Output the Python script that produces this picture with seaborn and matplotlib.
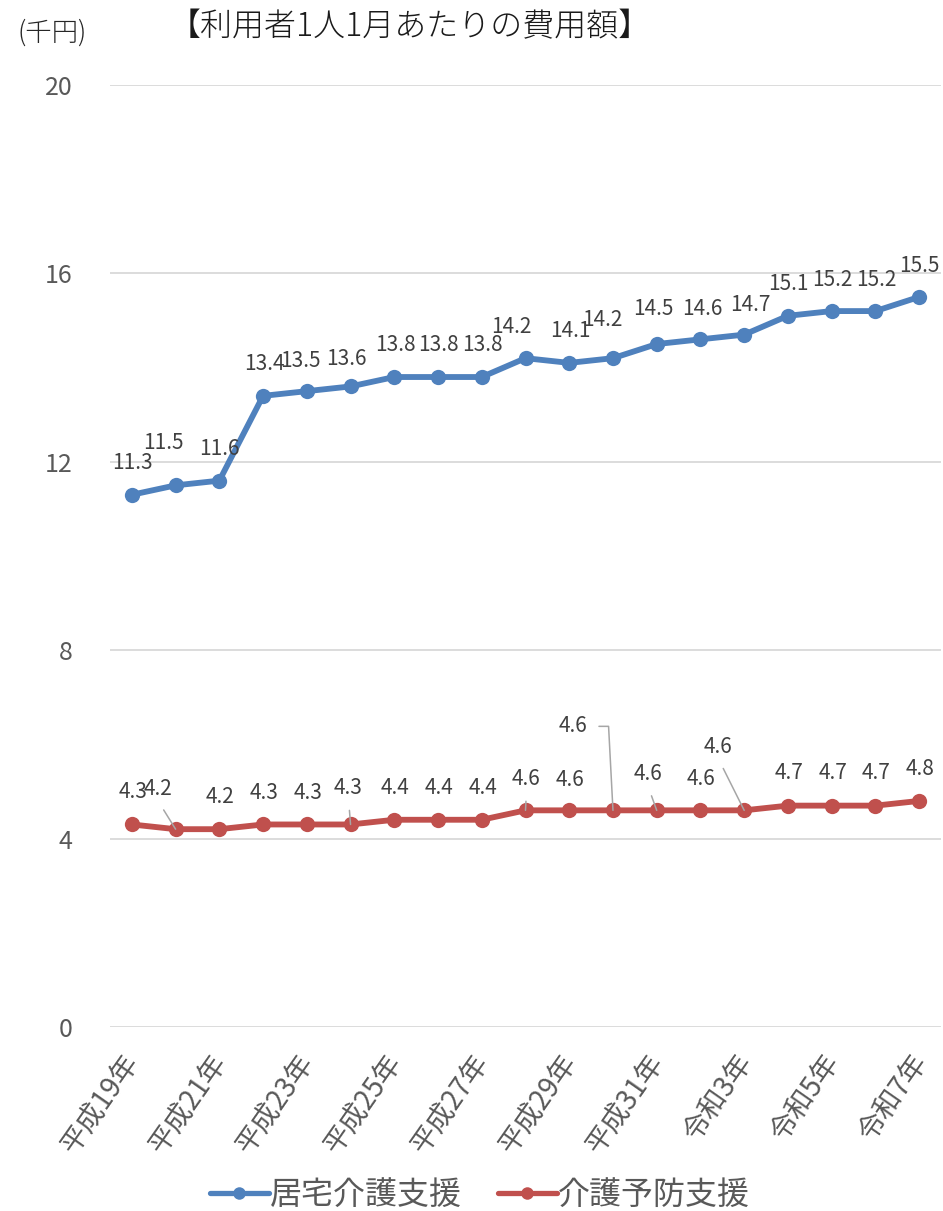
import numpy as np
import pandas as pd
import matplotlib
matplotlib.use("Agg")
import matplotlib.pyplot as plt
from matplotlib.transforms import ScaledTranslation
import seaborn as sns

# ---------------- data ----------------
years = ["平成19年", "平成20年", "平成21年", "平成22年", "平成23年", "平成24年",
         "平成25年", "平成26年", "平成27年", "平成28年", "平成29年", "平成30年",
         "平成31年", "令和2年", "令和3年", "令和4年", "令和5年", "令和6年", "令和7年"]
kyotaku = [11.3, 11.5, 11.6, 13.4, 13.5, 13.6, 13.8, 13.8, 13.8, 14.2,
           14.1, 14.2, 14.5, 14.6, 14.7, 15.1, 15.2, 15.2, 15.5]
yobou = [4.3, 4.2, 4.2, 4.3, 4.3, 4.3, 4.4, 4.4, 4.4, 4.6,
         4.6, 4.6, 4.6, 4.6, 4.6, 4.7, 4.7, 4.7, 4.8]
series_names = ["居宅介護支援", "介護予防支援"]
yticks = [0, 4, 8, 12, 16, 20]
title = "【利用者1人1月あたりの費用額】"
unit = "(千円)"

# ---------------- style ----------------
colors = ["#4F81BD", "#C0504D"]
# label offsets in pixels (dx, dy up) of label centre from the point
blue_off = [(1, 32), (-12, 42), (0, 32), (1, 32), (-6, 30), (-4, 27), (1, 32), (0, 32),
            (1, 32), (-14, 31), (1, 32), (-11, 38), (-3, 35), (2, 30), (6, 30), (0, 32),
            (1, 31), (1, 31), (0, 31)]
red_off = [(1, 32), (-18, 40), (1, 32), (1, 31), (1, 31), (-2, 36), (1, 32), (1, 32),
           (1, 32), (1, 31), (1, 30), (-40, 84), (-9, 36), (1, 31), (-26, 63), (1, 33),
           (1, 33), (1, 33), (1, 32)]
red_leaders = {1: "straight", 5: "straight", 9: "straight", 11: "elbow", 12: "straight", 14: "straight"}

sns.set_style("white")
plt.rcParams["font.family"] = ["Noto Sans CJK JP", "DejaVu Sans"]

W, H = 943, 1211
fig = plt.figure(figsize=(W / 100, H / 100), dpi=100)
ax = fig.add_axes([110 / W, 1 - 1027 / H, (941 - 110) / W, (1027 - 85) / H])

df = pd.DataFrame({
    "年": years * 2,
    "費用額": kyotaku + yobou,
    "区分": [series_names[0]] * len(years) + [series_names[1]] * len(years),
})
sns.lineplot(data=df, x="年", y="費用額", hue="区分", palette=colors, marker="o",
             markersize=11, markeredgewidth=0, linewidth=4.2, sort=False, ax=ax,
             legend=True, zorder=3)

ax.set_xlim(-0.5, len(years) - 0.5)
ax.set_ylim(0, 20)
ax.set_yticks(yticks)
ax.set_yticklabels([str(v) for v in yticks])
ax.set_xticks(range(0, len(years), 2))
ax.set_xticklabels(years[::2])
ax.set_xlabel("")
ax.set_ylabel("")
for s in ax.spines.values():
    s.set_visible(False)
ax.yaxis.grid(True, color="#D9D9D9", linewidth=1.3)
ax.xaxis.grid(False)
ax.set_axisbelow(True)
ax.tick_params(axis="both", length=0)
ax.tick_params(axis="y", pad=27, labelsize=18, labelcolor="#595959")
ax.tick_params(axis="x", pad=22, labelsize=20, labelcolor="#595959")
for lab in ax.get_xticklabels():
    lab.set_rotation(55)
    lab.set_ha("right")
    lab.set_va("center")
    lab.set_rotation_mode("anchor")
    lab.set_transform(lab.get_transform() + ScaledTranslation(2 / 100, 0, fig.dpi_scale_trans))

# data labels
lab_kw = dict(textcoords="offset pixels", ha="center", va="center", fontsize=15,
              color="#404040", zorder=5)
for i, v in enumerate(kyotaku):
    dx, dy = blue_off[i]
    ax.annotate(f"{v:.1f}", xy=(i, v), xytext=(dx, dy), **lab_kw)
for i, v in enumerate(yobou):
    dx, dy = red_off[i]
    kind = red_leaders.get(i)
    if kind == "straight":
        ap = dict(arrowstyle="-", color="#A6A6A6", lw=1.1, shrinkA=5.5, shrinkB=0,
                  relpos=(0.5, 0.0))
        ax.annotate(f"{v:.1f}", xy=(i, v), xytext=(dx, dy), arrowprops=ap, **lab_kw)
    elif kind == "elbow":
        ap = dict(arrowstyle="-", color="#A6A6A6", lw=1.1, shrinkA=6, shrinkB=0,
                  relpos=(1.0, 0.5), connectionstyle="angle,angleA=0,angleB=93,rad=0")
        ax.annotate(f"{v:.1f}", xy=(i, v), xytext=(dx, dy), arrowprops=ap, **lab_kw)
    else:
        ax.annotate(f"{v:.1f}", xy=(i, v), xytext=(dx, dy), **lab_kw)

# title and unit
fig.text(410 / W, 1 - 27 / H, title, ha="center", va="center", fontsize=23,
         fontweight="light", color="#1A1A1A")
fig.text(52 / W, 1 - 33 / H, unit, ha="center", va="center", fontsize=19,
         fontweight="light", color="#262626")

# legend
handles, labels = ax.get_legend_handles_labels()
ax.get_legend().remove()
leg = fig.legend(handles, labels, loc="center", bbox_to_anchor=(480 / W, 1 - 1195 / H),
                 ncol=2, frameon=False, fontsize=23, handlelength=1.85,
                 handletextpad=0.05, columnspacing=1.1, labelcolor="#595959")
for h in leg.legend_handles:
    h.set_markersize(9)
    h.set_linewidth(3.8)

fig.savefig("out.png", dpi=100)
